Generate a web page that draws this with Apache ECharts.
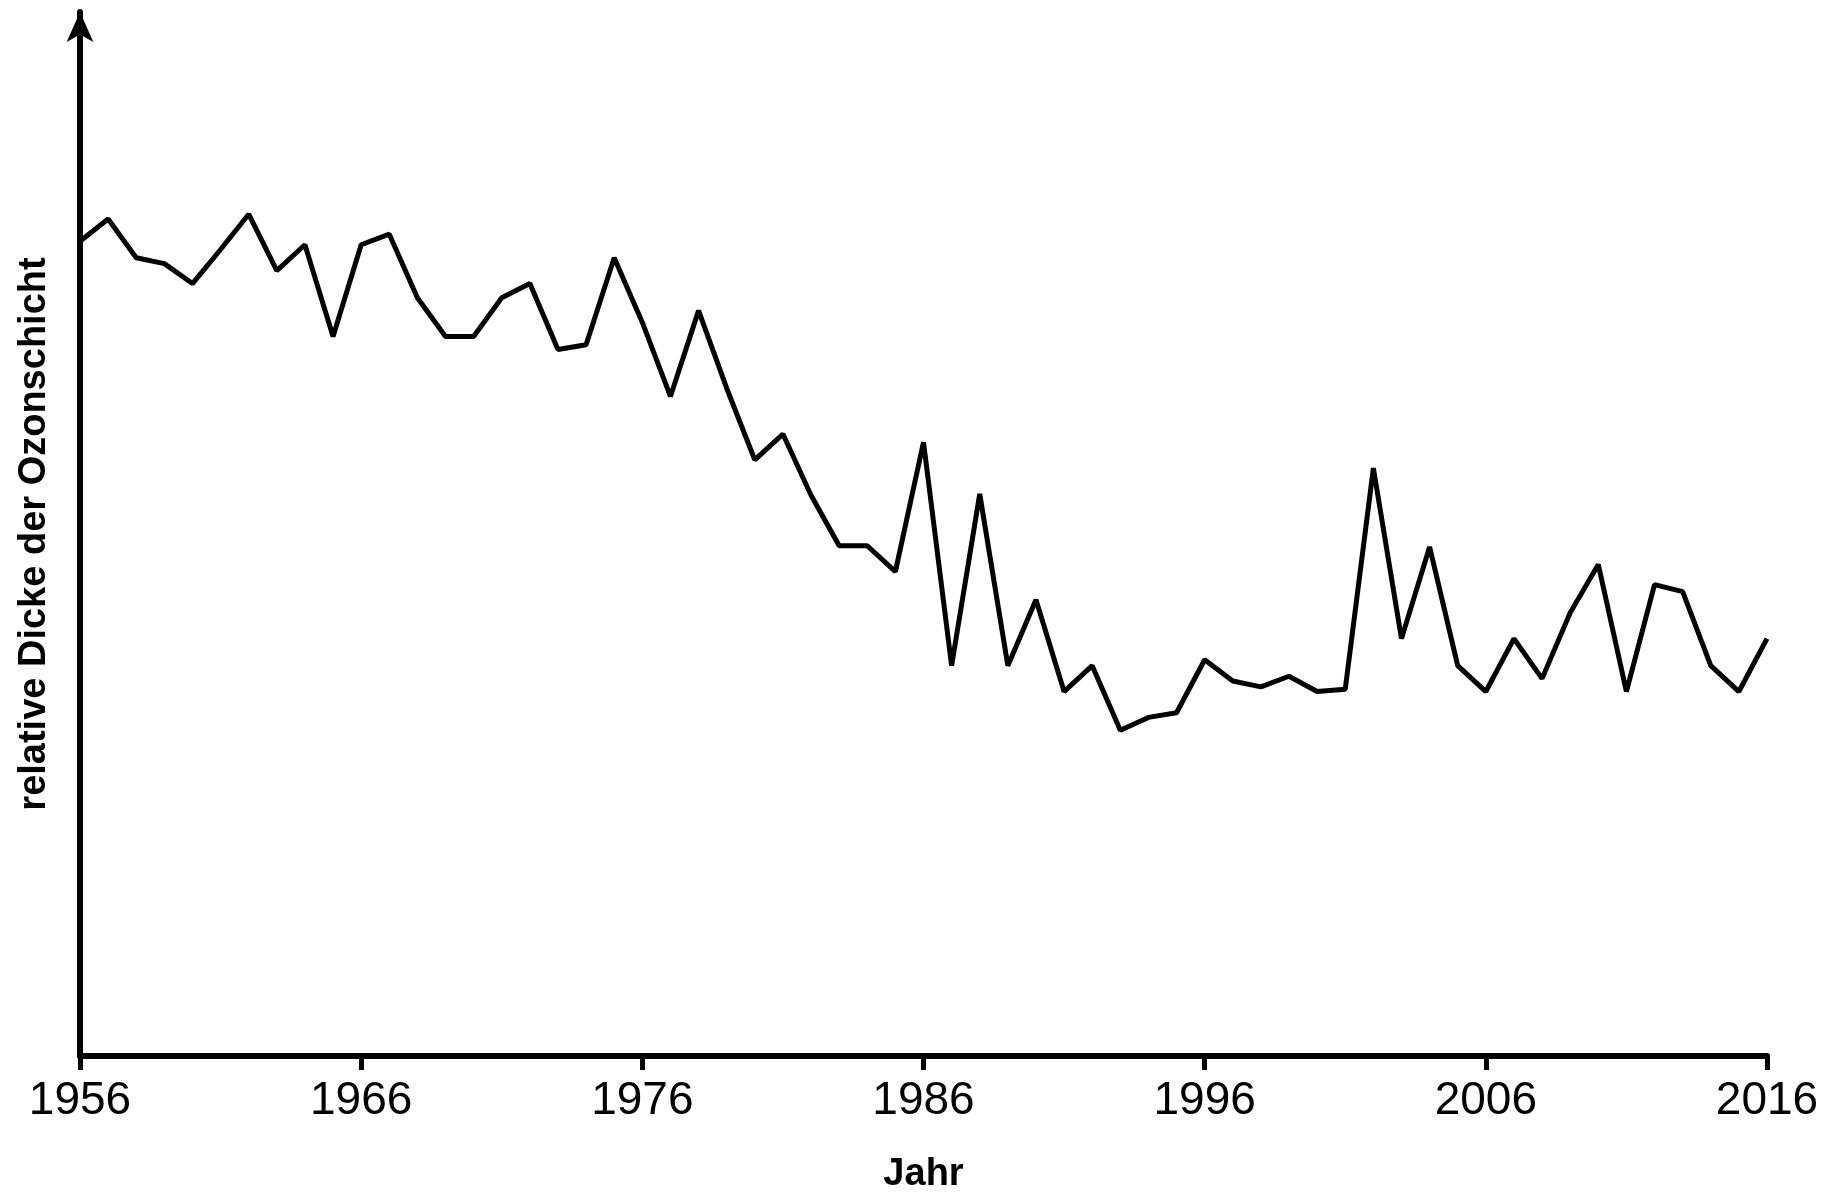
<!DOCTYPE html>
<html><head><meta charset="utf-8">
<script src="https://cdn.jsdelivr.net/npm/echarts@6/dist/echarts.min.js"></script>
<style>html,body{margin:0;padding:0;background:#fff}#c{width:1835px;height:1200px}</style>
</head><body><div id="c"></div>
<script>
const years = [];
for (let y = 1956; y <= 2016; y++) years.push(String(y));
const pixelY = [205,186,219,224,241,212,182,230,208,286,208,199,253,286,286,253,241,297,293,219,274,337,264,330,391,369,421,464,464,486,376,566,420,566,510,588,566,621,610,606,561,579,584,575,588,586,398,543,465,566,588,543,577,521,480,588,497,503,566,588,543];
const values = pixelY.map(v => 898 - v);
const chart = echarts.init(document.getElementById('c'));
chart.setOption({
  animation:false,
  grid:{left:80,right:68,top:12,bottom:144},
  xAxis:{type:'category',data:years,boundaryGap:false,
    name:'Jahr',nameLocation:'middle',nameGap:100,
    nameTextStyle:{fontFamily:'Liberation Sans',fontWeight:'bold',fontSize:38,color:'#000'},
    axisLine:{lineStyle:{color:'#000',width:6}},
    axisTick:{interval:9,length:14,lineStyle:{color:'#000',width:5}},
    axisLabel:{interval:9,fontFamily:'Liberation Sans',fontSize:46,color:'#000',margin:22}},
  yAxis:{type:'value',min:0,max:888,
    name:'relative Dicke der Ozonschicht',nameLocation:'middle',nameGap:26,
    nameTextStyle:{fontFamily:'Liberation Sans',fontWeight:'bold',fontSize:38,color:'#000'},
    splitLine:{show:false},axisTick:{show:false},axisLabel:{show:false},
    axisLine:{show:true,symbol:['none','arrow'],symbolSize:[20,30],lineStyle:{color:'#000',width:6}}},
  series:[{type:'line',data:values,symbol:'none',lineStyle:{color:'#000',width:5}}]
});
</script></body></html>
